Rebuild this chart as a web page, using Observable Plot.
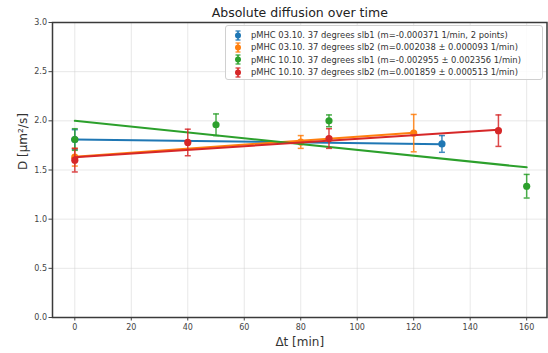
<!DOCTYPE html>
<html>
<head>
<meta charset="utf-8">
<script src="https://cdn.jsdelivr.net/npm/d3@7"></script>
<script src="https://cdn.jsdelivr.net/npm/@observablehq/plot@0.6"></script>
<style>
  html, body { margin: 0; padding: 0; background: #fff; }
  #wrap { position: relative; width: 548px; height: 353px; font-family: "DejaVu Sans", sans-serif; }
  #legend { position: absolute; left: 225px; top: 25px; width: 318px; height: 55px;
            border: 1px solid #d0d0d0; border-radius: 3px; background: rgba(255,255,255,0.85);
            box-sizing: border-box; padding-top: 3px; }
  .row { display: flex; align-items: center; height: 12.3px; font-size: 8.4px; color: #333; white-space: nowrap; }
  .row svg { margin-left: 7px; margin-right: 8px; }
</style>
</head>
<body>
<div id="wrap"><div id="legend"></div></div>
<script>
// ---- data ----
const seriesNames = [
  "pMHC 03.10. 37 degrees slb1",
  "pMHC 03.10. 37 degrees slb2",
  "pMHC 10.10. 37 degrees slb1",
  "pMHC 10.10. 37 degrees slb2"
];
const seriesFits = [
  "(m=-0.000371 1/min, 2 points)",
  "(m=0.002038 ± 0.000093 1/min)",
  "(m=-0.002955 ± 0.002356 1/min)",
  "(m=0.001859 ± 0.000513 1/min)"
];
const seriesColors = ["#1f77b4", "#ff7f0e", "#2ca02c", "#d62728"];

const blueT = [0, 130];
const blueD = [1.81, 1.765];
const blueErr = [0.10, 0.085];

const orangeT = [0, 80, 120];
const orangeD = [1.63, 1.785, 1.875];
const orangeErr = [0.09, 0.065, 0.19];

const greenT = [0, 50, 90, 160];
const greenD = [1.81, 1.96, 2.00, 1.335];
const greenErr = [0.11, 0.11, 0.06, 0.12];

const redT = [0, 40, 90, 150];
const redD = [1.60, 1.78, 1.82, 1.90];
const redErr = [0.12, 0.135, 0.10, 0.16];

// linear fit endpoints (start t, end t, start D, end D)
const fitT0 = [0, 0, 0, 0];
const fitT1 = [130, 120, 160, 150];
const fitD0 = [1.81, 1.635, 2.00, 1.63];
const fitD1 = [1.762, 1.88, 1.527, 1.91];

const xTicks = [0, 20, 40, 60, 80, 100, 120, 140, 160];
const yTicks = [0, 0.5, 1.0, 1.5, 2.0, 2.5, 3.0];

const title = "Absolute diffusion over time";
const xLabel = "Δt [min]";
const yLabel = "D [µm²/s]";

// ---- build tables ----
const groups = [[blueT, blueD, blueErr], [orangeT, orangeD, orangeErr], [greenT, greenD, greenErr], [redT, redD, redErr]];
const points = [];
groups.forEach(([t, d, e], s) => t.forEach((tv, i) => points.push({s, t: tv, d: d[i], lo: d[i] - e[i], hi: d[i] + e[i]})));
const fits = [];
seriesNames.forEach((n, s) => { fits.push({s, t: fitT0[s], d: fitD0[s]}); fits.push({s, t: fitT1[s], d: fitD1[s]}); });

const capSymbol = {
  draw(context, size) {
    const r = Math.sqrt(size / Math.PI);
    context.moveTo(-r, 0);
    context.lineTo(r, 0);
  }
};

const marks = [
  Plot.gridX(xTicks, {stroke: "#cfcfcf", strokeOpacity: 0.6, strokeWidth: 0.8}),
  Plot.gridY(yTicks, {stroke: "#cfcfcf", strokeOpacity: 0.6, strokeWidth: 0.8}),
  Plot.axisX({ticks: xTicks, tickSize: 3.5, tickPadding: 3, fontSize: 8, tickFormat: d => String(d), label: null, color: "#444"}),
  Plot.axisY({ticks: yTicks, tickSize: 3.5, tickPadding: 2, fontSize: 8, tickFormat: d => d.toFixed(1), label: null, color: "#444"})
];
seriesNames.forEach((n, s) => {
  const P = points.filter(p => p.s === s);
  const F = fits.filter(p => p.s === s);
  const c = seriesColors[s];
  marks.push(
    Plot.ruleX(P, {x: "t", y1: "lo", y2: "hi", stroke: c, strokeWidth: 1.5, strokeOpacity: 0.85}),
    Plot.dot(P, {x: "t", y: "lo", symbol: capSymbol, r: 3, stroke: c, strokeWidth: 1.5, strokeOpacity: 0.85}),
    Plot.dot(P, {x: "t", y: "hi", symbol: capSymbol, r: 3, stroke: c, strokeWidth: 1.5, strokeOpacity: 0.85}),
    Plot.dot(P, {x: "t", y: "d", r: 3.6, fill: c, stroke: null}),
    Plot.line(F, {x: "t", y: "d", stroke: c, strokeWidth: 2})
  );
});
marks.push(
  Plot.frame({stroke: "#3a3a3a", strokeWidth: 1.5}),
  Plot.text([title], {frameAnchor: "top", lineAnchor: "middle", dy: -10, fontSize: 12.5, fill: "#222"}),
  Plot.text([xLabel], {frameAnchor: "bottom", lineAnchor: "middle", dy: 25, fontSize: 12, fill: "#333"}),
  Plot.text([yLabel], {frameAnchor: "left", dx: -29, rotate: -90, fontSize: 12, fill: "#333"})
);

const chart = Plot.plot({
  width: 548,
  height: 353,
  marginLeft: 52,
  marginRight: 1.5,
  marginTop: 22,
  marginBottom: 36,
  style: {fontFamily: "DejaVu Sans, sans-serif", background: "#fff"},
  x: {domain: [-7.9, 167.2]},
  y: {domain: [0, 3]},
  marks
});
const wrap = document.getElementById("wrap");
wrap.insertBefore(chart, wrap.firstChild);

// legend
const legend = document.getElementById("legend");
seriesNames.forEach((n, s) => {
  const c = seriesColors[s];
  const row = document.createElement("div");
  row.className = "row";
  row.innerHTML = `<svg width="10" height="11" viewBox="-5 -5.5 10 11">
      <line x1="0" x2="0" y1="-4.5" y2="4.5" stroke="${c}" stroke-width="1.5"/>
      <line x1="-2.5" x2="2.5" y1="-4.5" y2="-4.5" stroke="${c}" stroke-width="1.2"/>
      <line x1="-2.5" x2="2.5" y1="4.5" y2="4.5" stroke="${c}" stroke-width="1.2"/>
      <circle r="3" fill="${c}"/></svg><span>${n} ${seriesFits[s]}</span>`;
  legend.appendChild(row);
});
</script>
</body>
</html>
